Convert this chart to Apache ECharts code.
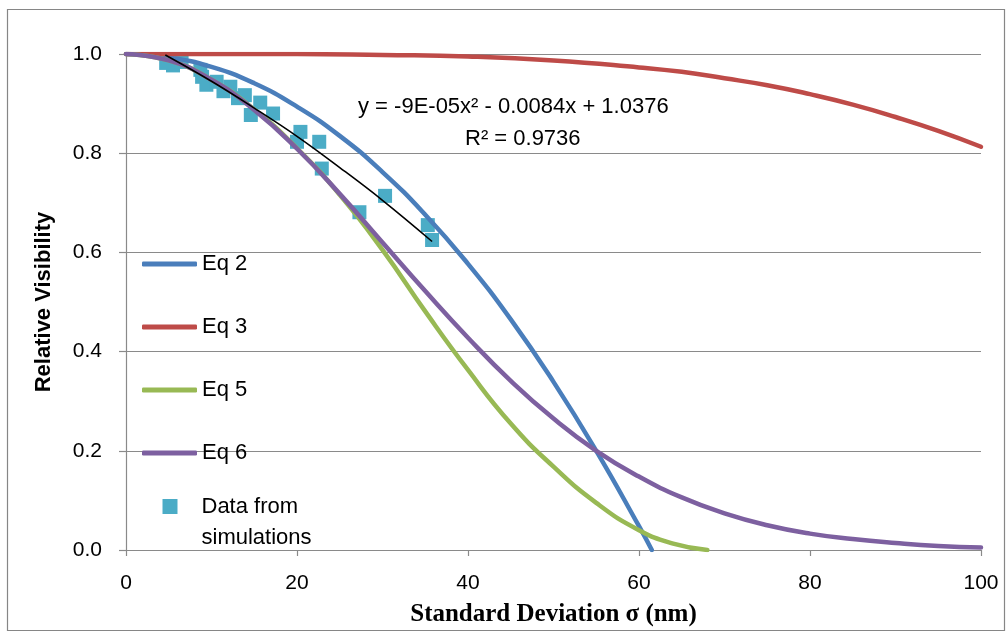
<!DOCTYPE html>
<html>
<head>
<meta charset="utf-8">
<script src="https://cdn.jsdelivr.net/npm/echarts@6/dist/echarts.min.js"></script>
<style>
  html, body { margin: 0; padding: 0; background: #fff; }
  #chart { width: 1008px; height: 633px; }
</style>
</head>
<body>
<div id="chart"></div>
<script>
// Relative visibility vs. standard deviation (nm)
const eq2X = [0, 5, 10, 15, 20, 25, 30, 35, 40, 45, 50, 55, 60, 61.5];
const eq2Y = [1.000, 0.993, 0.974, 0.941, 0.894, 0.835, 0.762, 0.676, 0.577, 0.465, 0.339, 0.200, 0.048, 0.000];

const eq3X = [0, 10, 20, 30, 40, 50, 60, 65, 70, 75, 80, 85, 90, 95, 100];
const eq3Y = [1.000, 1.000, 1.000, 0.998, 0.995, 0.987, 0.973, 0.964, 0.951, 0.937, 0.919, 0.898, 0.873, 0.845, 0.813];

const eq5X = [0, 5, 10, 15, 20, 25, 30, 35, 40, 45, 50, 55, 60, 64, 68];
const eq5Y = [1.000, 0.987, 0.948, 0.888, 0.810, 0.716, 0.605, 0.481, 0.363, 0.255, 0.168, 0.095, 0.040, 0.013, 0.000];

const eq6X = [0, 5, 10, 15, 20, 25, 30, 35, 40, 45, 50, 55, 60, 65, 70, 75, 80, 85, 90, 95, 100];
const eq6Y = [1.000, 0.987, 0.948, 0.887, 0.809, 0.718, 0.620, 0.522, 0.428, 0.341, 0.265, 0.200, 0.148, 0.106, 0.074, 0.050, 0.033, 0.022, 0.014, 0.008, 0.005];

const simX = [4.7, 5.5, 6.5, 8.7, 8.9, 9.4, 10.6, 11.4, 12.2, 13.1, 13.9, 14.6, 15.7, 17.2, 20.0, 20.4, 22.6, 22.9, 27.3, 30.3, 35.3, 35.8];
const simY = [0.982, 0.977, 0.984, 0.968, 0.954, 0.938, 0.944, 0.925, 0.934, 0.911, 0.917, 0.877, 0.902, 0.880, 0.823, 0.843, 0.823, 0.769, 0.681, 0.714, 0.655, 0.625];

// Polynomial trendline through the simulation data
const trendX = [4.6, 10, 15, 20, 25, 30, 35.8];
const trendY = [0.998, 0.945, 0.891, 0.834, 0.771, 0.705, 0.622];

const xTicks = { min: 0, max: 100, interval: 20 };
const yTicks = { min: 0, max: 1, interval: 0.2 };

const pairs = (xs, ys) => xs.map((x, i) => [x, ys[i]]);

const SANS = "'Liberation Sans', Arial, sans-serif";
const SERIF = "'Liberation Serif', 'Times New Roman', serif";
const GRID_GRAY = '#8a8a8a';

const chart = echarts.init(document.getElementById('chart'), null, { renderer: 'canvas' });

function curve(name, xs, ys, color) {
  return {
    name: name,
    type: 'line',
    data: pairs(xs, ys),
    symbol: 'none',
    smooth: 0.5,
    lineStyle: { color: color, width: 4.5, cap: 'round' },
    itemStyle: { color: color },
    emphasis: { disabled: true },
    silent: true
  };
}

const option = {
  backgroundColor: '#fff',
  animation: false,
  grid: { left: 126, right: 27, top: 54, bottom: 83 },
  xAxis: {
    type: 'value',
    min: xTicks.min, max: xTicks.max, interval: xTicks.interval,
    name: 'Standard Deviation σ (nm)',
    nameLocation: 'middle',
    nameGap: 52,
    nameTextStyle: { fontFamily: SERIF, fontWeight: 'bold', fontSize: 25, color: '#000' },
    axisLine: { show: true, onZero: false, lineStyle: { color: GRID_GRAY, width: 1.2 } },
    axisTick: { show: true, inside: false, length: 6, lineStyle: { color: GRID_GRAY, width: 1.2 } },
    axisLabel: { fontFamily: SANS, fontSize: 21, color: '#000', margin: 23 },
    splitLine: { show: false }
  },
  yAxis: {
    type: 'value',
    min: yTicks.min, max: yTicks.max, interval: yTicks.interval,
    name: 'Relative Visibility',
    nameLocation: 'middle',
    nameGap: 71,
    nameTextStyle: { fontFamily: SANS, fontWeight: 'bold', fontSize: 22, color: '#000' },
    axisLine: { show: true, lineStyle: { color: GRID_GRAY, width: 1.2 } },
    axisTick: { show: true, inside: false, length: 7, lineStyle: { color: GRID_GRAY, width: 1.2 } },
    axisLabel: { fontFamily: SANS, fontSize: 21, color: '#000', margin: 24, formatter: v => v.toFixed(1) },
    splitLine: { show: true, lineStyle: { color: GRID_GRAY, width: 1.2 } }
  },
  legend: [
    {
      orient: 'vertical',
      left: 142, top: 253,
      padding: 0,
      itemGap: 41,
      itemWidth: 55,
      itemHeight: 5,
      selectedMode: false,
      icon: 'roundRect',
      data: ['Eq 2', 'Eq 3', 'Eq 5', 'Eq 6'],
      textStyle: { fontFamily: SANS, fontSize: 22, color: '#000', lineHeight: 20 }
    },
    {
      orient: 'vertical',
      left: 162.5, top: 460,
      padding: 0,
      itemWidth: 15,
      itemHeight: 15,
      selectedMode: false,
      data: [{ name: 'Data from simulations', icon: 'rect' }],
      // blank first line keeps the square level with "Data from"
      formatter: () => '\nData from\nsimulations',
      textStyle: { fontFamily: SANS, fontSize: 22, color: '#000', lineHeight: 31, padding: [0, 0, 0, 19] }
    }
  ],
  series: [
    curve('Eq 2', eq2X, eq2Y, '#4A7EBB'),
    curve('Eq 3', eq3X, eq3Y, '#BE4B48'),
    curve('Eq 5', eq5X, eq5Y, '#98B954'),
    curve('Eq 6', eq6X, eq6Y, '#7D60A0'),
    {
      name: 'Data from simulations',
      type: 'scatter',
      data: pairs(simX, simY),
      symbol: 'rect',
      symbolSize: 14,
      itemStyle: { color: '#4BACC6', opacity: 1 },
      silent: true
    },
    {
      name: 'Poly. trend',
      type: 'line',
      data: pairs(trendX, trendY),
      symbol: 'none',
      smooth: 0.4,
      lineStyle: { color: '#000', width: 1.6 },
      silent: true
    }
  ],
  graphic: [
    {
      type: 'rect',
      shape: { x: 7.5, y: 9.5, width: 997, height: 621 },
      style: { fill: 'none', stroke: '#868686', lineWidth: 1.2 },
      silent: true,
      z: -10
    },
    {
      type: 'text',
      left: 358, top: 96,
      style: { text: 'y = -9E-05x² - 0.0084x + 1.0376', font: "22px 'Liberation Sans', Arial, sans-serif", fill: '#000' },
      silent: true
    },
    {
      type: 'text',
      left: 465, top: 128,
      style: { text: 'R² = 0.9736', font: "22px 'Liberation Sans', Arial, sans-serif", fill: '#000' },
      silent: true
    }
  ]
};

chart.setOption(option);
</script>
</body>
</html>
